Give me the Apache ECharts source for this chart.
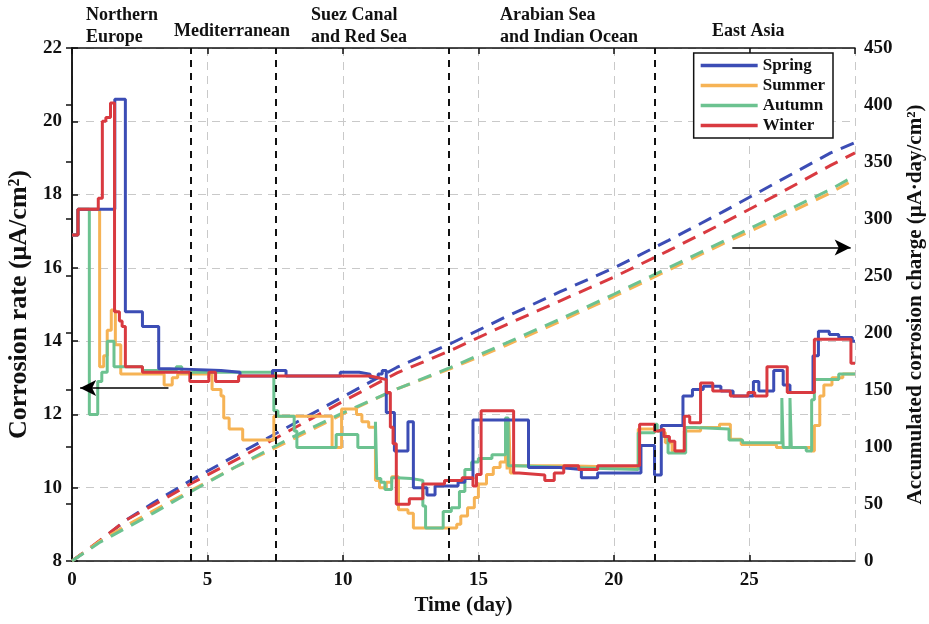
<!DOCTYPE html>
<html lang="en">
<head>
    <meta charset="UTF-8">
    <title>Corrosion rate</title>
    <script src="https://cdn.jsdelivr.net/npm/echarts@6/dist/echarts.min.js"></script>
</head>
<body style="margin:0">
<div id="main" style="width: 929px;height: 624px;"></div>
<script>
  // corrosion rate, [day, value] change points (held until next point)
  var springRate = [[0,16.9],[0.22,17.6],[1.58,20.6],[1.97,14.8],[2.6,14.4],[3.2,13.25],[3.6,13.2],[5.5,13.15],[6.2,13.05],[7.4,13.2],[7.9,13.05],[9.9,13.15],[10.6,13.1],[11.0,13.0],[11.3,13.1],[11.45,13.2],[11.6,12.05],[11.9,11.0],[12.4,11.8],[12.6,10.0],[13.1,9.8],[13.4,10.05],[14.25,10.15],[14.5,10.25],[14.8,11.85],[16.85,10.55],[18.0,10.5],[18.8,10.27],[19.4,10.4],[21.0,11.15],[21.5,10.35],[21.75,11.7],[22.55,12.5],[22.9,12.68],[23.3,12.77],[23.95,12.64],[24.4,12.5],[25.15,12.9],[25.35,12.64],[25.9,13.2],[26.25,12.8],[26.5,12.6],[27.35,13.6],[27.55,14.27],[27.95,14.18],[28.3,14.1],[28.8,14.0],[28.9,14.0]];
  var summerRate = [[0,16.9],[0.22,17.6],[1.02,13.3],[1.17,13.6],[1.3,14.3],[1.45,14.85],[1.6,13.9],[1.8,13.1],[3.4,12.8],[3.7,13.0],[3.9,13.1],[5.17,12.68],[5.5,12.5],[5.6,11.9],[5.8,11.6],[6.3,11.3],[7.45,11.95],[9.6,11.1],[9.95,12.15],[10.5,12.0],[10.7,11.8],[10.95,11.65],[11.2,10.2],[11.35,10.0],[11.6,10.15],[11.8,10.3],[12.05,9.4],[12.4,9.3],[12.6,8.9],[14.2,9.0],[14.35,9.23],[14.6,9.45],[14.85,9.73],[15.0,10.1],[15.3,10.36],[15.55,10.55],[15.8,10.7],[16.0,11.85],[16.06,10.5],[16.12,11.85],[16.18,10.4],[16.3,10.6],[18.2,10.55],[20.9,11.6],[21.5,11.55],[21.65,11.5],[21.9,11.23],[22.15,11.0],[22.6,11.55],[23.2,11.64],[23.9,11.73],[24.3,11.32],[24.7,11.18],[26.0,11.1],[27.3,11.0],[27.4,11.7],[27.6,12.5],[27.75,12.8],[28.05,13.0],[28.45,13.1],[28.9,13.1]];
  var autumnRate = [[0,16.9],[0.22,17.6],[0.64,12.0],[0.95,12.9],[1.1,13.15],[1.3,14.0],[1.55,13.3],[2.6,13.2],[3.85,13.3],[4.05,13.15],[7.45,12.1],[7.6,11.95],[8.2,11.55],[8.3,11.1],[9.75,11.45],[10.55,11.1],[11.2,11.8],[11.25,10.25],[11.4,10.15],[11.55,9.95],[11.8,10.27],[12.0,10.25],[12.5,10.2],[12.95,9.5],[13.05,8.9],[13.7,9.35],[14.0,9.45],[14.3,9.9],[14.5,10.5],[14.75,10.7],[15.0,10.8],[15.5,10.9],[16.0,11.9],[16.1,10.6],[16.4,10.55],[18.3,10.5],[20.9,11.5],[21.5,11.73],[21.6,11.55],[21.8,11.4],[22.0,10.95],[22.65,11.64],[23.0,11.6],[24.25,11.3],[24.75,11.23],[26.2,12.45],[26.25,11.1],[26.5,12.45],[26.55,11.1],[27.1,11.0],[27.3,12.4],[27.4,12.95],[28.3,13.1],[28.9,13.1]];
  var winterRate = [[0,16.9],[0.22,17.6],[0.97,17.9],[1.12,20.0],[1.25,20.1],[1.42,20.5],[1.57,14.8],[1.75,14.55],[1.85,14.4],[1.97,13.3],[2.6,13.15],[4.35,12.9],[5.05,13.15],[5.3,12.9],[6.15,13.05],[11.0,13.0],[11.3,12.95],[11.6,12.6],[11.75,11.65],[11.85,11.2],[11.97,9.55],[12.45,9.7],[12.95,10.1],[13.75,10.2],[14.4,10.27],[14.8,10.05],[14.93,10.36],[15.1,12.1],[16.3,10.4],[16.5,10.35],[17.45,10.2],[17.8,10.4],[18.15,10.6],[18.7,10.5],[19.4,10.6],[20.95,11.73],[21.5,11.55],[21.65,11.6],[21.85,11.4],[22.05,11.27],[22.25,11.0],[22.6,11.95],[22.8,11.77],[23.2,12.86],[23.65,12.64],[24.3,12.5],[24.95,12.6],[25.2,12.5],[25.65,13.3],[26.4,12.6],[27.4,14.05],[28.75,13.4],[28.9,13.4]];

  // accumulated corrosion charge
  var chargeDays = [0, 1, 2, 3, 4.4, 6, 8, 10, 12, 14, 16, 18, 20, 22, 24, 26, 28, 28.9];
  var springCharge = [0, 17, 36, 51, 71, 92, 118, 144, 170, 191, 214, 236, 257, 281, 306, 332, 358, 367];
  var summerCharge = [0, 17, 31, 44, 62, 82, 105, 129, 151, 169, 189, 210, 232, 255, 278, 300, 323, 335];
  var autumnCharge = [0, 16, 29, 42, 61, 82, 107, 130, 151, 170, 191, 212, 234, 257, 280, 303, 326, 338];
  var winterCharge = [0, 17.5, 36, 49, 68, 88, 114, 140, 165, 185, 207, 228, 249, 272, 296, 321, 347, 358];

  // route sections
  var regionBounds = [4.39, 7.53, 13.9, 21.52];
  var regionNames = ['Northern\nEurope', 'Mediterranean', 'Suez Canal\nand Red Sea', 'Arabian Sea\nand Indian Ocean', 'East Asia'];

  var seasons = ['Spring', 'Summer', 'Autumn', 'Winter'];
  var colors = {Spring: '#3c4db5', Summer: '#f6b355', Autumn: '#6cc290', Winter: '#d93a40'};

  var font = 'Liberation Serif';

  function pairs(xs, ys) {
    return xs.map(function (x, i) { return [x, ys[i]]; });
  }

  var chargeSeries = [
    ['Spring', springCharge], ['Winter', winterCharge], ['Summer', summerCharge], ['Autumn', autumnCharge]
  ].map(function (s) {
    return {
      name: s[0] + ' charge',
      type: 'line',
      yAxisIndex: 1,
      data: pairs(chargeDays, s[1]),
      symbol: 'none',
      lineStyle: {color: colors[s[0]], width: 3, type: [14, 9]},
      z: 2
    };
  });

  function rateSeries(name, data) {
    return {
      name: name,
      type: 'line',
      step: 'end',
      data: data,
      symbol: 'none',
      itemStyle: {color: colors[name]},
      lineStyle: {color: colors[name], width: 3},
      z: 3
    };
  }

  var summer = rateSeries('Summer', summerRate);
  summer.markLine = {
    silent: true,
    symbol: ['none', 'none'],
    label: {show: false},
    lineStyle: {color: '#111', width: 2, type: [7, 6]},
    data: regionBounds.map(function (d) { return {xAxis: d}; })
  };

  var spring = rateSeries('Spring', springRate);
  spring.markLine = {
    silent: true,
    symbol: ['none', 'arrow'],
    symbolSize: [12, 16],
    label: {show: false},
    lineStyle: {color: '#000', width: 1.5, type: 'solid'},
    data: [[{coord: [3.56, 12.72]}, {coord: [0.3, 12.72]}]]
  };

  chargeSeries[0].markLine = {
    silent: true,
    symbol: ['none', 'arrow'],
    symbolSize: [12, 16],
    label: {show: false},
    lineStyle: {color: '#000', width: 1.5, type: 'solid'},
    data: [[{coord: [24.37, 275]}, {coord: [28.74, 275]}]]
  };

  var tickLabel = {fontFamily: font, fontWeight: 'bold', fontSize: 19, color: '#111'};
  var axisLine = {show: true, lineStyle: {color: '#111', width: 1.5}};
  var tick = {show: true, inside: true, length: 6, lineStyle: {color: '#111', width: 1.5}};
  var grid = {show: true, lineStyle: {color: '#c9c9c9', width: 1, type: [8, 6]}};

  // region labels above the plot
  var labelPos = [[86, 4, 'top'], [174, 31, 'middle'], [311, 4, 'top'], [500, 4, 'top'], [712, 31, 'middle']];
  var graphics = regionNames.map(function (t, i) {
    var p = labelPos[i];
    return {
      type: 'text', left: p[0], top: p[1] - (p[2] === 'middle' ? 11 : 0),
      style: {text: t, font: 'bold 18px "' + font + '"', fill: '#111', lineHeight: 22}
    };
  });

  var chart = echarts.init(document.getElementById('main'));
  chart.setOption({
    animation: false,
    backgroundColor: '#fff',
    grid: {left: 72, right: 74, top: 48, bottom: 63, outerBoundsMode: 'none'},
    legend: {
      data: seasons,
      orient: 'vertical',
      right: 96,
      top: 53,
      icon: 'rect',
      backgroundColor: '#fff',
      borderColor: '#111',
      borderWidth: 1.5,
      borderRadius: 0,
      padding: [4, 8, 4, 7],
      itemWidth: 57,
      itemHeight: 3.5,
      itemGap: 3,
      textStyle: {fontFamily: font, fontWeight: 'bold', fontSize: 17, color: '#111'}
    },
    xAxis: [{
      type: 'value', min: 0, max: 28.9, interval: 5,
      name: 'Time (day)', nameLocation: 'middle', nameGap: 34,
      nameTextStyle: {fontFamily: font, fontWeight: 'bold', fontSize: 21, color: '#111'},
      axisLine: axisLine, axisTick: tick, splitLine: grid,
      axisLabel: Object.assign({margin: 10, showMaxLabel: false}, tickLabel)
    }, {
      type: 'value', min: 0, max: 28.9, interval: 5, position: 'top',
      axisLine: axisLine, axisTick: tick, splitLine: {show: false}, axisLabel: {show: false}
    }],
    yAxis: [{
      type: 'value', min: 8, max: 22, interval: 2,
      name: 'Corrosion rate (μA/cm²)', nameLocation: 'middle', nameRotate: 90, nameGap: 32,
      nameTextStyle: {fontFamily: font, fontWeight: 'bold', fontSize: 26, color: '#111'},
      axisLine: axisLine, axisTick: tick, splitLine: grid,
      axisLabel: Object.assign({margin: 10}, tickLabel)
    }, {
      type: 'value', min: 0, max: 450, interval: 50, position: 'right',
      name: 'Accumulated corrosion charge (μA·day/cm²)', nameLocation: 'middle', nameRotate: 90, nameGap: 50,
      nameTextStyle: {fontFamily: font, fontWeight: 'bold', fontSize: 21, color: '#111'},
      axisLine: axisLine, axisTick: tick, splitLine: {show: false},
      axisLabel: Object.assign({margin: 9}, tickLabel)
    }],
    graphic: graphics,
    series: chargeSeries.concat([
      summer,
      rateSeries('Autumn', autumnRate),
      spring,
      rateSeries('Winter', winterRate)
    ])
  });
</script>
</body>
</html>
